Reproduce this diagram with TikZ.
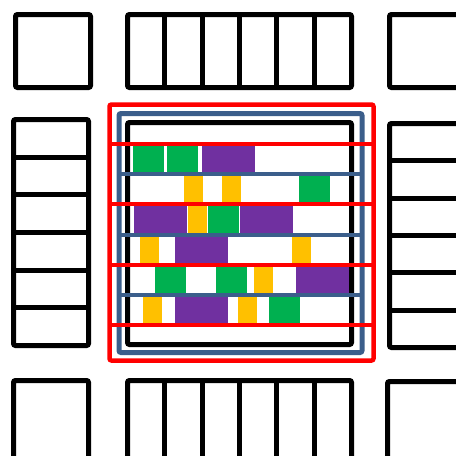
\documentclass[tikz,border=0pt]{standalone}
\usepackage{xcolor}
\usepackage{tikz}
\definecolor{slotred}{HTML}{FF0000}
\definecolor{slotblue}{HTML}{3B5E8B}
\definecolor{taskgreen}{HTML}{00B050}
\definecolor{taskpurple}{HTML}{7030A0}
\definecolor{taskyellow}{HTML}{FFC000}

\begin{document}
\begin{tikzpicture}[
    x=1pt, y=-1pt,
    frame/.style={draw=black, line width=5pt, rounded corners=2pt},
    divider/.style={draw=black, line width=5pt},
    redline/.style={draw=slotred, line width=4pt},
    blueline/.style={draw=slotblue, line width=4pt},
    greenblk/.style={fill=taskgreen},
    purpleblk/.style={fill=taskpurple},
    yellowblk/.style={fill=taskyellow}
  ]
    \useasboundingbox (0,0) rectangle (456,456);
    \clip (0,0) rectangle (456,456);

    % surrounding racks
    \draw[frame] (15.5,14.5) rectangle (90.5,87.5);
    \draw[frame] (127.5,14.5) rectangle (351.5,87.5);
    \foreach \k in {1,...,5}
      \draw[divider] ({127.5+37.33*\k},14.5) -- ({127.5+37.33*\k},87.5);
    \draw[frame] (389.5,14.5) rectangle (500,87.5);

    \draw[frame] (13.5,119.5) rectangle (88.5,345.5);
    \foreach \k in {1,...,5}
      \draw[divider] (13.5,{119.5+37.67*\k}) -- (88.5,{119.5+37.67*\k});
    \draw[frame] (389.5,123.5) rectangle (500,347.5);
    \foreach \k in {1,...,5}
      \draw[divider] (389.5,{123.5+37.33*\k}) -- (500,{123.5+37.33*\k});

    \draw[frame] (13.5,380.5) rectangle (88.5,500);
    \draw[frame] (127.5,380.5) rectangle (351.5,500);
    \foreach \k in {1,...,5}
      \draw[divider] ({127.5+37.33*\k},380.5) -- ({127.5+37.33*\k},500);
    \draw[frame] (387.5,381.5) rectangle (500,500);

    % centre block
    \draw[frame, draw=slotred, line width=4.5pt] (109.5,104.5) rectangle (373.5,360.5);
    \draw[frame, draw=slotblue] (119,113.5) rectangle (362,352.5);
    \draw[frame] (127.5,122.5) rectangle (351.5,344.5);

    \foreach \r/\x in {1/133,1/167,2/299,3/208,5/155,5/216,6/269}
      \fill[greenblk] (\x,{144+30.2*(\r-1)}) rectangle ++(31,30.2);
    \foreach \r/\x in {1/202,3/134,3/240,4/175,5/296,6/175}
      \fill[purpleblk] (\x,{144+30.2*(\r-1)}) rectangle ++(53,30.2);
    \foreach \r/\x in {2/184,2/222,3/188,4/140,4/292,5/254,6/143,6/238}
      \fill[yellowblk] (\x,{144+30.2*(\r-1)}) rectangle ++(19,30.2);

    \foreach \k in {1,3,5}
      \draw[blueline] (119,{144+30.2*\k}) -- (362,{144+30.2*\k});
    \foreach \k in {0,2,4,6}
      \draw[redline] (109.5,{144+30.2*\k}) -- (373.5,{144+30.2*\k});
\end{tikzpicture}
\end{document}
